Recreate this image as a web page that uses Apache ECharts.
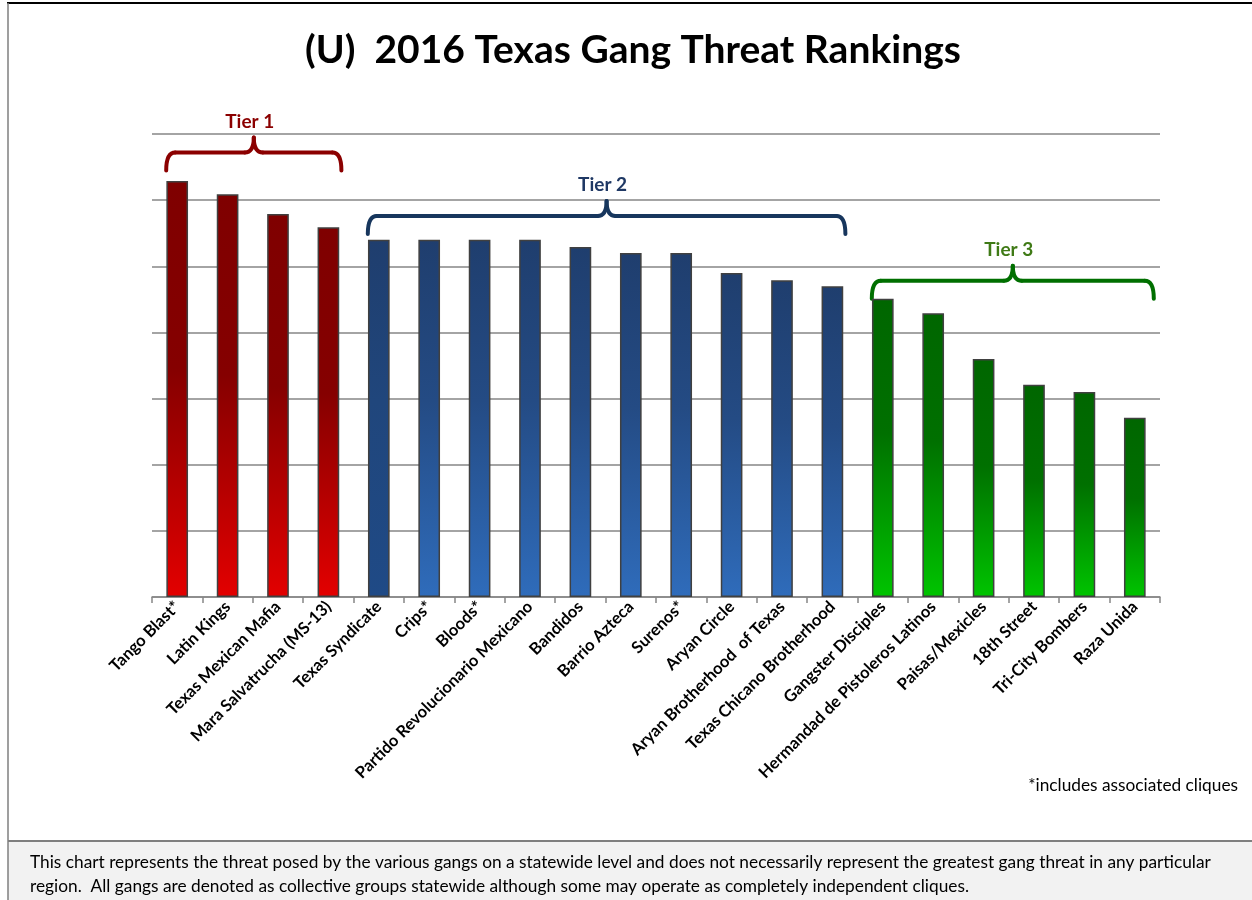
<!DOCTYPE html>
<html><head><meta charset="utf-8">
<script src="https://cdn.jsdelivr.net/npm/echarts@6/dist/echarts.min.js"></script>
<style>html,body{margin:0;padding:0;background:#fff}#c{width:1252px;height:900px}</style>
</head><body><div id="c"></div>
<script>
const categories = ["Tango Blast*","Latin Kings","Texas Mexican Mafia","Mara Salvatrucha (MS-13)","Texas Syndicate","Crips*","Bloods*","Partido Revolucionario Mexicano","Bandidos","Barrio Azteca","Surenos*","Aryan Circle","Aryan Brotherhood  of Texas","Texas Chicano Brotherhood","Gangster Disciples","Hermandad de Pistoleros Latinos","Paisas/Mexicles","18th Street","Tri-City Bombers","Raza Unida"];
const values = [6.29,6.09,5.79,5.59,5.40,5.40,5.40,5.40,5.29,5.20,5.20,4.90,4.79,4.70,4.51,4.29,3.60,3.21,3.10,2.71];
const tierLabels = ["Tier 1","Tier 2","Tier 3"];
const tierFirst = [0,4,14];
const tierLast = [3,13,19];
const tierBracketLevel = [6.72,5.76,4.78];
const titleText = "(U)  2016 Texas Gang Threat Rankings";
const footnoteText = "*includes associated cliques";
const footerLines = ["This chart represents the threat posed by the various gangs on a statewide level and does not necessarily represent the greatest gang threat in any particular","region.  All gangs are denoted as collective groups statewide although some may operate as completely independent cliques."];

const tierGrad = [
  ["#7f0000","#850000","#e30000"],
  ["#1f3e6e","#244b84","#2f6cbb"],
  ["#006600","#007000","#00c400"]
];
const tierLabelColor = ["#8b0000","#1f3864","#3f7a16"];
const tierBracketColor = ["#8b0000","#17365d","#006f00"];

function tierOf(i){ for(let t=0;t<3;t++){ if(i>=tierFirst[t]&&i<=tierLast[t]) return t; } return 0; }
function grad(c){ return new echarts.graphic.LinearGradient(0,0,0,1,[{offset:0,color:c[0]},{offset:0.45,color:c[1]},{offset:1,color:c[2]}]); }

const data = values.map((v,i)=>{
  let g = tierGrad[tierOf(i)];
  if(i===4) g = ["#1f3e6e","#20467c","#1f4a86"];
  return {value:v,itemStyle:{color:grad(g)}};
});

const chart = echarts.init(document.getElementById('c'),null,{renderer:'canvas'});
const FONT = 'Lato, "Open Sans", sans-serif';
chart.setOption({
  animation:false,
  backgroundColor:'#ffffff',
  grid:{left:152,right:92,top:134,bottom:303,containLabel:false},
  xAxis:{type:'category',data:categories,boundaryGap:true,
    axisLine:{lineStyle:{color:'#868686',width:1.5}},
    axisTick:{show:true,alignWithLabel:false,length:6,lineStyle:{color:'#868686',width:1.5}},
    axisLabel:{interval:0,rotate:45,margin:7,color:'#000',fontFamily:FONT,fontWeight:'bold',fontSize:16.5}},
  yAxis:{type:'value',min:0,max:7,interval:1,axisLabel:{show:false},axisLine:{show:false},axisTick:{show:false},
    splitLine:{lineStyle:{color:'#868686',width:1.5}}},
  series:[{type:'bar',data:data,barWidth:'43%',itemStyle:{borderColor:'#404040',borderWidth:1.5}}]
});

const el = [];
// frame
el.push({type:'rect',shape:{x:8,y:842,width:1250,height:60},style:{fill:'#f2f2f2'},z:0});
el.push({type:'line',shape:{x1:7,y1:3,x2:1252,y2:3},style:{stroke:'#000',lineWidth:2}});
el.push({type:'line',shape:{x1:8,y1:3,x2:8,y2:900},style:{stroke:'#7f7f7f',lineWidth:1.5}});
el.push({type:'line',shape:{x1:8,y1:841,x2:1252,y2:841},style:{stroke:'#7f7f7f',lineWidth:2}});
el.push({type:'text',x:633,y:50,style:{text:titleText,fill:'#000',font:'bold 39px '+FONT,textAlign:'center',textVerticalAlign:'middle'}});
el.push({type:'text',x:1238,y:785,style:{text:footnoteText,fill:'#000',font:'17.3px '+FONT,textAlign:'right',textVerticalAlign:'middle'}});
footerLines.forEach((t,k)=>{
  el.push({type:'text',x:30,y:862+24*k,style:{text:t,fill:'#000',font:'17.3px '+FONT,textAlign:'left',textVerticalAlign:'middle'}});
});

// brackets
const half = 11;
for(let t=0;t<3;t++){
  const x1 = chart.convertToPixel({xAxisIndex:0},tierFirst[t]) - half;
  const x2 = chart.convertToPixel({xAxisIndex:0},tierLast[t]) + half + (t===2?8:2);
  const xm = (x1+x2)/2;
  const yL = chart.convertToPixel({yAxisIndex:0},tierBracketLevel[t]);
  const yE = yL+18, yT = yL-15, r=9;
  const st = {stroke:tierBracketColor[t],lineWidth:4,fill:null,lineCap:'round'};
  el.push({type:'bezierCurve',shape:{x1:x1,y1:yE,cpx1:x1,cpy1:yL,x2:x1+r,y2:yL},style:st});
  el.push({type:'line',shape:{x1:x1+r,y1:yL,x2:xm-r,y2:yL},style:st});
  el.push({type:'bezierCurve',shape:{x1:xm-r,y1:yL,cpx1:xm,cpy1:yL,x2:xm,y2:yT},style:st});
  el.push({type:'bezierCurve',shape:{x1:xm,y1:yT,cpx1:xm,cpy1:yL,x2:xm+r,y2:yL},style:st});
  el.push({type:'line',shape:{x1:xm+r,y1:yL,x2:x2-r,y2:yL},style:st});
  el.push({type:'bezierCurve',shape:{x1:x2-r,y1:yL,cpx1:x2,cpy1:yL,x2:x2,y2:yE},style:st});
  el.push({type:'text',x:xm-4,y:yT-16,style:{text:tierLabels[t],fill:tierLabelColor[t],font:'bold 19px '+FONT,textAlign:'center',textVerticalAlign:'middle'}});
}
chart.setOption({graphic:{elements:el}});
</script></body></html>
